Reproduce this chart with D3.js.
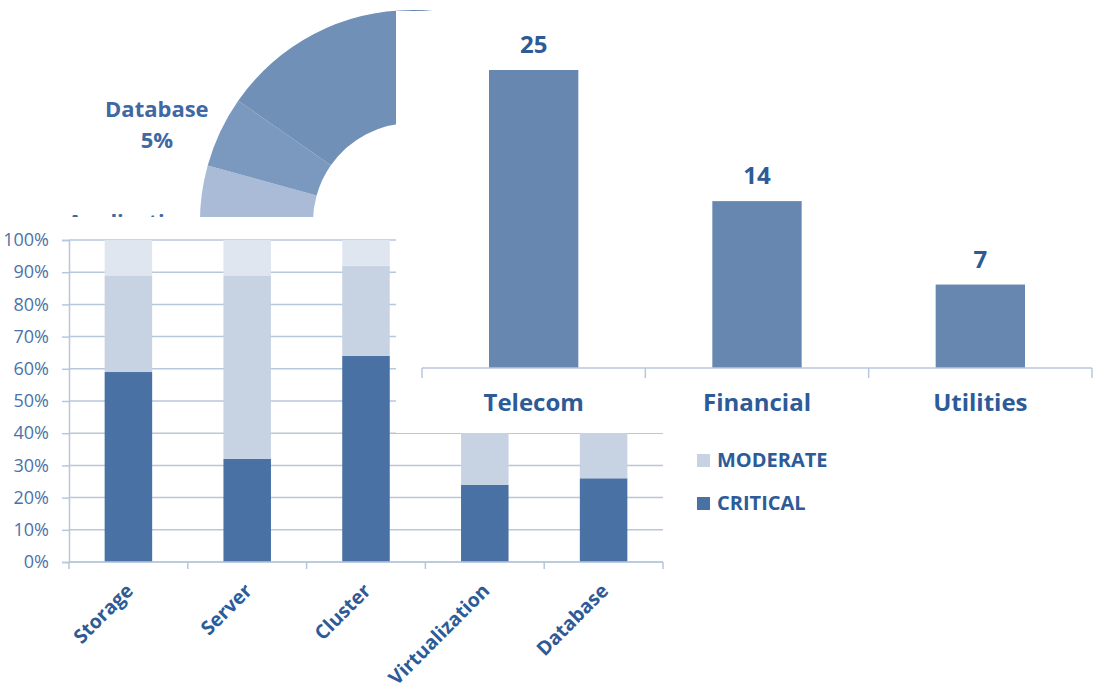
<!DOCTYPE html>
<html>
<head>
<meta charset="utf-8">
<script src="https://d3js.org/d3.v7.min.js"></script>
<style>
  body { margin: 0; background: #fff; }
  svg { display: block; }
  text { font-family: "Open Sans", sans-serif; }
</style>
</head>
<body>
<script>
const width = 1094;
const height = 689;

// background donut: share of incidents by area (only the upper-left part shows)
const donutNames = ['Storage', 'Server', 'Cluster', 'Virtualization', 'Application', 'Database', 'Network'];
const donutShares = [29, 21, 13, 8.5, 7.8, 5.4, 15.3];
const donutColors = ['#5d7fab', '#86a1c5', '#4f73a3', '#98afcf', '#a9bbd6', '#7b98be', '#7090b8'];
const donutLabelled = ['Application', 'Database'];

// stacked 100% chart: severity split per area
const areas = ['Storage', 'Server', 'Cluster', 'Virtualization', 'Database'];
const criticalPct = [59, 32, 64, 24, 26];
const moderatePct = [30, 57, 28, 51, 49];
const lowPct = [11, 11, 8, 25, 25];
const severities = ['CRITICAL', 'MODERATE', 'LOW'];
const severityColors = ['#4a71a3', '#c7d3e3', '#dfe6f0'];
const legendShown = ['MODERATE', 'CRITICAL'];
const pctTicks = [0, 10, 20, 30, 40, 50, 60, 70, 80, 90, 100];

// front chart: incidents per industry
const industries = ['Telecom', 'Financial', 'Utilities'];
const industryCounts = [25, 14, 7];

const labelBlue = '#2d5b98';
const tickBlue = '#4d72a9';
const gridBlue = '#b7c7dc';

const svg = d3.select('body')
    .append('svg')
    .attr('width', width)
    .attr('height', height);

// ---------- donut ----------
const donut = svg.append('g').attr('transform', 'translate(412, 222)');

const pie = d3.pie().sort(null).value(d => d.share);
const slices = pie(donutNames.map((n, i) => ({ name: n, share: donutShares[i], color: donutColors[i] })));
const arc = d3.arc().innerRadius(99).outerRadius(212);
const labelArc = d3.arc().innerRadius(282).outerRadius(282);
const total = d3.sum(donutShares);

donut.selectAll('path')
    .data(slices)
    .enter()
    .append('path')
    .attr('d', arc)
    .attr('fill', d => d.data.color);

const dLabels = donut.selectAll('.dlabel')
    .data(slices.filter(d => donutLabelled.includes(d.data.name)))
    .enter()
    .append('text')
    .attr('class', 'dlabel')
    .attr('transform', d => `translate(${labelArc.centroid(d)})`)
    .attr('text-anchor', 'middle')
    .style('font-size', '22px')
    .style('font-weight', 700)
    .style('fill', '#4068a3');
dLabels.append('tspan').attr('x', 0).attr('y', 15).text(d => d.data.name);
dLabels.append('tspan').attr('x', 0).attr('y', 46).text(d => d3.format('.0%')(d.data.share / total));

// ---------- stacked percentage chart ----------
svg.append('rect')
    .attr('x', 0).attr('y', 217)
    .attr('width', width).attr('height', height - 217)
    .attr('fill', '#fff');

const stackG = svg.append('g');

const xArea = d3.scaleBand().domain(areas).range([69, 663]).paddingInner(0.6).paddingOuter(0.3);
const yPct = d3.scaleLinear().domain([0, 100]).range([562, 240]);

stackG.selectAll('.grid')
    .data(pctTicks)
    .enter()
    .append('line')
    .attr('x1', 69).attr('x2', 663)
    .attr('y1', d => yPct(d)).attr('y2', d => yPct(d))
    .attr('stroke', gridBlue)
    .attr('stroke-width', 1.5);

const rows = areas.map((a, i) => ({ area: a, CRITICAL: criticalPct[i], MODERATE: moderatePct[i], LOW: lowPct[i] }));
const series = d3.stack().keys(severities)(rows);

stackG.selectAll('.series')
    .data(series)
    .enter()
    .append('g')
    .attr('fill', (d, i) => severityColors[i])
    .selectAll('rect')
    .data(d => d)
    .enter()
    .append('rect')
    .attr('x', d => xArea(d.data.area))
    .attr('width', xArea.bandwidth())
    .attr('y', d => yPct(d[1]))
    .attr('height', d => yPct(d[0]) - yPct(d[1]));

const yAxisG = stackG.append('g')
    .attr('transform', 'translate(69, 0)')
    .call(d3.axisLeft(yPct).tickValues(pctTicks).tickSize(7).tickPadding(13).tickFormat(d => d + '%'));
yAxisG.selectAll('line, path').attr('stroke', gridBlue).attr('stroke-width', 1.5);
yAxisG.selectAll('text')
    .style('font-size', '18px')
    .style('font-family', '"Open Sans", sans-serif')
    .style('fill', tickBlue);

const xAxisG = stackG.append('g')
    .attr('transform', 'translate(0, 562)')
    .call(d3.axisBottom(xArea).tickSize(0));
xAxisG.select('.domain').remove();
xAxisG.selectAll('text')
    .attr('y', 0).attr('dy', 0)
    .attr('transform', 'translate(6, 30) rotate(-45)')
    .attr('text-anchor', 'end')
    .style('font-size', '19.5px')
    .style('font-weight', 700)
    .style('font-family', '"Open Sans", sans-serif')
    .style('fill', labelBlue);

const areaEdges = [xArea(areas[0]) + xArea.bandwidth() / 2 - xArea.step() / 2]
    .concat(areas.map(a => xArea(a) + xArea.bandwidth() / 2 + xArea.step() / 2));
xAxisG.append('line')
    .attr('x1', areaEdges[0]).attr('x2', areaEdges[areaEdges.length - 1])
    .attr('stroke', gridBlue).attr('stroke-width', 1.5);
xAxisG.selectAll('.edge')
    .data(areaEdges)
    .enter()
    .append('line')
    .attr('x1', d => d).attr('x2', d => d)
    .attr('y1', 0).attr('y2', 7)
    .attr('stroke', gridBlue).attr('stroke-width', 1.5);

// legend (the LOW entry sits under the front panel, so only these two show)
const legend = stackG.selectAll('.legend')
    .data(legendShown)
    .enter()
    .append('g')
    .attr('transform', (d, i) => `translate(697, ${454 + i * 43})`);
legend.append('rect')
    .attr('width', 13).attr('height', 13)
    .attr('fill', d => severityColors[severities.indexOf(d)]);
legend.append('text')
    .attr('x', 20).attr('y', 13)
    .style('font-size', '20px')
    .style('font-weight', 700)
    .style('fill', labelBlue)
    .text(d => d);

// ---------- front chart: industries ----------
svg.append('rect')
    .attr('x', 396).attr('y', 11)
    .attr('width', width - 396).attr('height', 422)
    .attr('fill', '#fff');

const indG = svg.append('g');
const xInd = d3.scaleBand().domain(industries).range([422, 1092]).paddingInner(0.6).paddingOuter(0.3);
const yInd = d3.scaleLinear().domain([0, 25]).range([368, 70]);

indG.selectAll('.bar')
    .data(industries)
    .enter()
    .append('rect')
    .attr('x', d => xInd(d))
    .attr('width', xInd.bandwidth())
    .attr('y', (d, i) => yInd(industryCounts[i]))
    .attr('height', (d, i) => yInd(0) - yInd(industryCounts[i]))
    .attr('fill', '#6787b1');

indG.selectAll('.val')
    .data(industries)
    .enter()
    .append('text')
    .attr('x', d => xInd(d) + xInd.bandwidth() / 2)
    .attr('y', (d, i) => yInd(industryCounts[i]) - 17)
    .attr('text-anchor', 'middle')
    .style('font-size', '24px')
    .style('font-weight', 700)
    .style('fill', labelBlue)
    .text((d, i) => industryCounts[i]);

const indAxis = indG.append('g')
    .attr('transform', 'translate(0, 368)')
    .call(d3.axisBottom(xInd).tickSize(0));
indAxis.select('.domain').remove();
indAxis.selectAll('text')
    .attr('y', 43).attr('dy', 0)
    .style('font-size', '24px')
    .style('font-weight', 700)
    .style('font-family', '"Open Sans", sans-serif')
    .style('fill', labelBlue);

const indEdges = [xInd(industries[0]) + xInd.bandwidth() / 2 - xInd.step() / 2]
    .concat(industries.map(d => xInd(d) + xInd.bandwidth() / 2 + xInd.step() / 2));
indAxis.append('line')
    .attr('x1', indEdges[0]).attr('x2', indEdges[indEdges.length - 1])
    .attr('stroke', gridBlue).attr('stroke-width', 1.5);
indAxis.selectAll('.edge')
    .data(indEdges)
    .enter()
    .append('line')
    .attr('x1', d => d).attr('x2', d => d)
    .attr('y1', 0).attr('y2', 10)
    .attr('stroke', gridBlue).attr('stroke-width', 1.5);
</script>
</body>
</html>
